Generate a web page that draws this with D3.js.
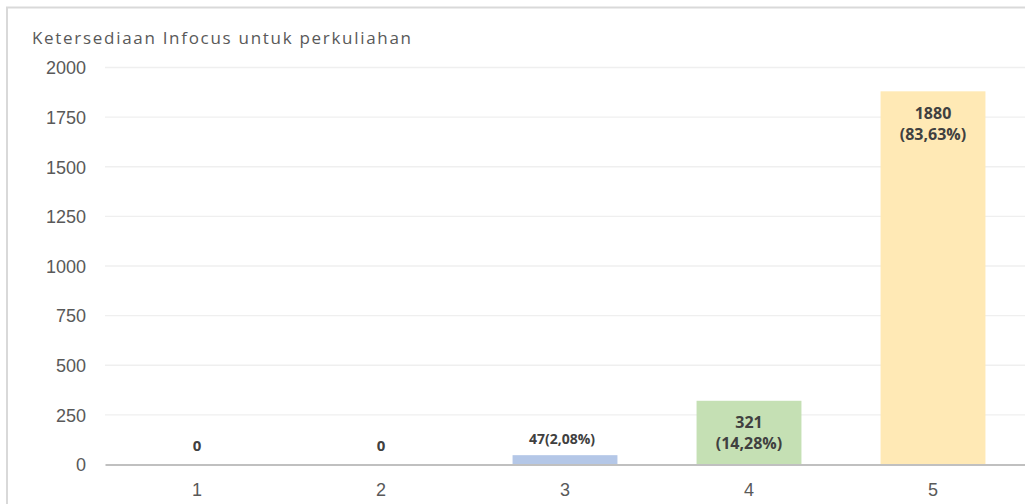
<!DOCTYPE html>
<html>
<head>
<meta charset="utf-8">
<script src="https://cdn.jsdelivr.net/npm/d3@7"></script>
<style>
  body { margin: 0; background: #fff; }
  svg { display: block; font-family: "Open Sans", sans-serif; }
</style>
</head>
<body>
<div id="chart"></div>
<script>
// Chart data
const categories = ["1", "2", "3", "4", "5"];
const values = [0, 0, 47, 321, 1880];
const percents = ["", "", "2,08%", "14,28%", "83,63%"];
const colors = ["#b4c7e7", "#b4c7e7", "#b4c7e7", "#c5e0b4", "#ffe9b5"];
const yTicks = [0, 250, 500, 750, 1000, 1250, 1500, 1750, 2000];
const title = "Ketersediaan Infocus untuk perkuliahan";

const width = 1025, height = 504;

const svg = d3.select("#chart")
  .append("svg")
  .attr("width", width)
  .attr("height", height);

// Outer frame
svg.append("rect")
  .attr("x", 7).attr("y", 7.5)
  .attr("width", width + 10).attr("height", height + 10)
  .attr("fill", "#fff")
  .attr("stroke", "#d9d9d9")
  .attr("stroke-width", 2);

// Scales
const x = d3.scaleBand()
  .domain(categories)
  .range([105, 1025])
  .paddingInner(0.43)
  .paddingOuter(0.215);

const y = d3.scaleLinear()
  .domain([0, 2000])
  .range([464.5, 67.5]);

// Gridlines
svg.append("g")
  .selectAll("line")
  .data(yTicks.filter(d => d > 0))
  .join("line")
  .attr("x1", 105).attr("x2", 1025)
  .attr("y1", d => y(d)).attr("y2", d => y(d))
  .attr("stroke", "#efefef")
  .attr("stroke-width", 1.3);

// Y axis labels
const yAxis = svg.append("g")
  .attr("transform", "translate(105,0)")
  .call(d3.axisLeft(y).tickValues(yTicks).tickFormat(d3.format("d")).tickSize(0).tickPadding(19));
yAxis.select(".domain").remove();
yAxis.selectAll("text")
  .attr("fill", "#595959")
  .style("font-size", "18px")
  .attr("dy", "0.35em");

// Bars
svg.append("g")
  .selectAll("rect")
  .data(values)
  .join("rect")
  .attr("x", (d, i) => x(categories[i]))
  .attr("y", d => y(d))
  .attr("width", x.bandwidth())
  .attr("height", d => y(0) - y(d))
  .attr("fill", (d, i) => colors[i]);

// X axis
const xAxis = svg.append("g")
  .attr("transform", `translate(0,${y(0)})`)
  .call(d3.axisBottom(x).tickSize(0).tickPadding(19));
xAxis.select(".domain")
  .attr("stroke", "#c0c0c0")
  .attr("stroke-width", 2.2);
xAxis.selectAll("text")
  .attr("fill", "#595959")
  .style("font-size", "18px");

// Data labels
const labels = svg.append("g")
  .attr("fill", "#404040")
  .attr("font-weight", "bold")
  .attr("text-anchor", "middle");

values.forEach((v, i) => {
  const cx = x(categories[i]) + x.bandwidth() / 2;
  if (!percents[i]) {
    labels.append("text")
      .attr("x", cx).attr("y", y(0) - 19)
      .attr("dy", "0.35em")
      .style("font-size", "15px")
      .text(v);
  } else if (v < 100) {
    labels.append("text")
      .attr("x", cx - 3).attr("y", y(v) - 16)
      .attr("dy", "0.35em")
      .style("font-size", "14px")
      .text(`${v}(${percents[i]})`);
  } else {
    labels.append("text")
      .attr("x", cx).attr("y", y(v) + 22)
      .attr("dy", "0.35em")
      .style("font-size", "16px")
      .text(v);
    labels.append("text")
      .attr("x", cx).attr("y", y(v) + 43)
      .attr("dy", "0.35em")
      .style("font-size", "16px")
      .text(`(${percents[i]})`);
  }
});

// Title
svg.append("text")
  .attr("x", 32).attr("y", 44)
  .attr("fill", "#595959")
  .attr("textLength", 379)
  .attr("lengthAdjust", "spacing")
  .style("font-size", "17px")
  .text(title);
</script>
</body>
</html>
